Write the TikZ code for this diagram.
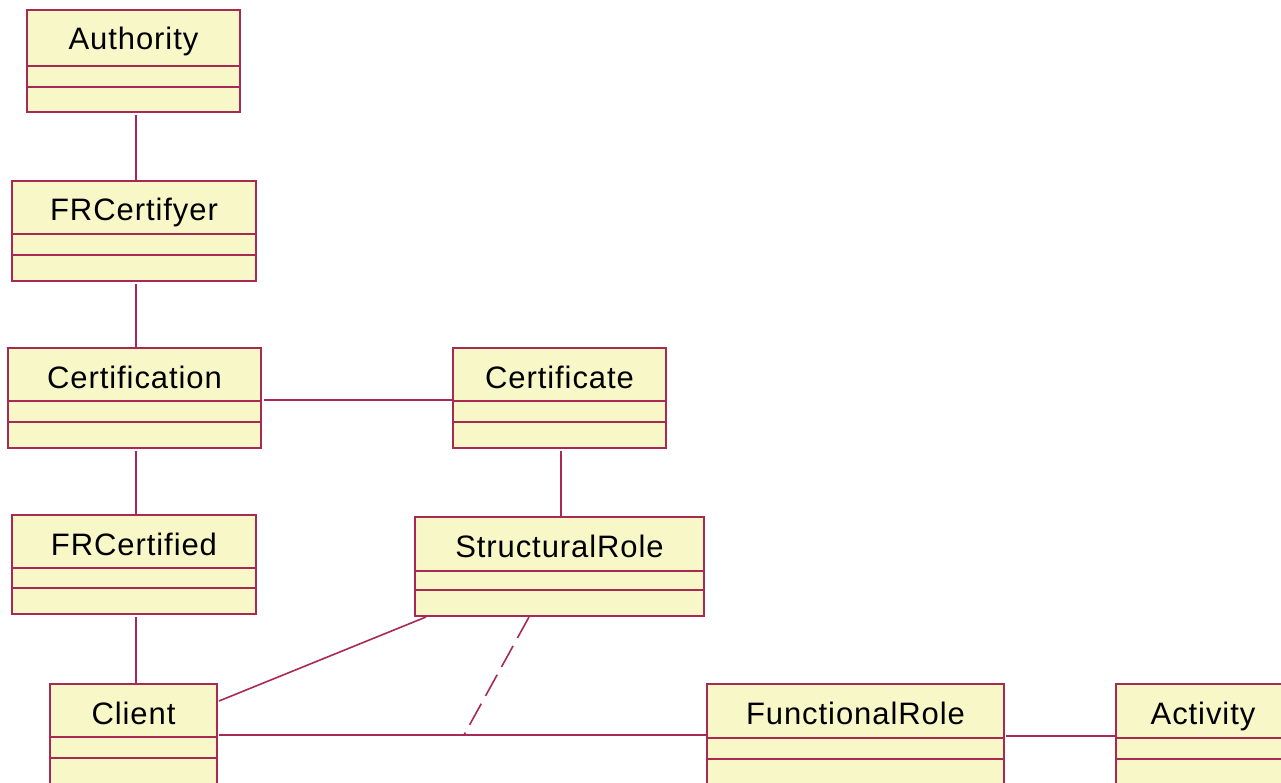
\documentclass[tikz,border=0pt]{standalone}
\usepackage{fontspec}
\setmainfont[LetterSpace=3]{Liberation Sans}
\usetikzlibrary{calc}
\definecolor{boxfill}{RGB}{248,247,200}
\definecolor{boxline}{RGB}{168,42,82}
\tikzset{
  classbox/.style={draw=boxline, fill=boxfill, line width=1.8pt, rectangle, inner sep=0pt, outer sep=0pt},
  divider/.style={draw=boxline, line width=1.8pt},
  titletext/.style={inner sep=0pt, font=\fontsize{31}{36}\selectfont, text=black},
  assoc/.style={draw=boxline, line width=1.6pt},
  dep/.style={draw=boxline, line width=1.6pt, dash pattern=on 24pt off 9pt}
}
% name, x1, top, x2, bottom, div1, div2, text
\newcommand\umlclass[8]{%
  \node[classbox, minimum width={(#4-#2)*1pt}, minimum height={(#5-#3)*1pt}] (#1) at ({(#2+#4)/2},{(#3+#5)/2}) {};
  \draw[divider] ({#2},{#6}) -- ({#4},{#6});
  \draw[divider] ({#2},{#7}) -- ({#4},{#7});
  \node[titletext, anchor=base] (#1-t) at ({(#2+#4)/2},{#3+40}) {#8};
}
\begin{document}
\begin{tikzpicture}[x=1pt, y=-1pt]
\useasboundingbox (0,0) rectangle (1281,783);
\clip (0,0) rectangle (1281,783);
\fill[white] (0,0) rectangle (1281,783);

\umlclass{auth}{27}{10}{240}{112}{66}{87}{Authority}
\umlclass{frcy}{12}{181}{256}{281}{234}{255}{FRCertifyer}
\umlclass{cern}{8}{348}{261}{448}{401}{422}{Certification}
\umlclass{certf}{453}{348}{666}{448}{401}{422}{Certificate}
\umlclass{frcd}{12}{515}{256}{614}{568}{588}{FRCertified}
\umlclass{sr}{415}{517}{704}{616}{571}{590}{StructuralRole}
\umlclass{cl}{50}{684}{217}{786}{737}{758}{Client}
\umlclass{fr}{707}{684}{1004}{786}{738}{759}{FunctionalRole}
\umlclass{act}{1116}{684}{1290}{786}{738}{759}{Activity}

\coordinate (join) at (464,735);
\coordinate (a1) at ($(auth.south)+(2.5,3)$);
\coordinate (a2) at ($(frcy.south)+(2,3)$);
\coordinate (a3) at ($(cern.south)+(1.5,3)$);
\coordinate (a4) at ($(certf.south)+(1.5,3)$);
\coordinate (a5) at ($(frcd.south)+(2,3)$);

\draw[assoc] (a1) -- (a1 |- frcy.north);
\draw[assoc] (a2) -- (a2 |- cern.north);
\draw[assoc] ($(cern.east)+(3,2)$) -- ($(certf.west)+(0,2)$);
\draw[assoc] (a3) -- (a3 |- frcd.north);
\draw[assoc] (a4) -- (a4 |- sr.north);
\draw[assoc] (a5) -- (a5 |- cl.north);
\draw[assoc] ($(sr.south west)+(11,1)$) -- ($(cl.north east)+(2,17)$);
\draw[assoc] ($(cl.east)+(2,0)$) -- (cl.east -| fr.west);
\draw[assoc] ($(fr.east)+(2,1)$) -- ($(act.west)+(0,1)$);
\draw[dep] ($(sr.south west)+(114,1)$) -- (join);
\end{tikzpicture}
\end{document}
